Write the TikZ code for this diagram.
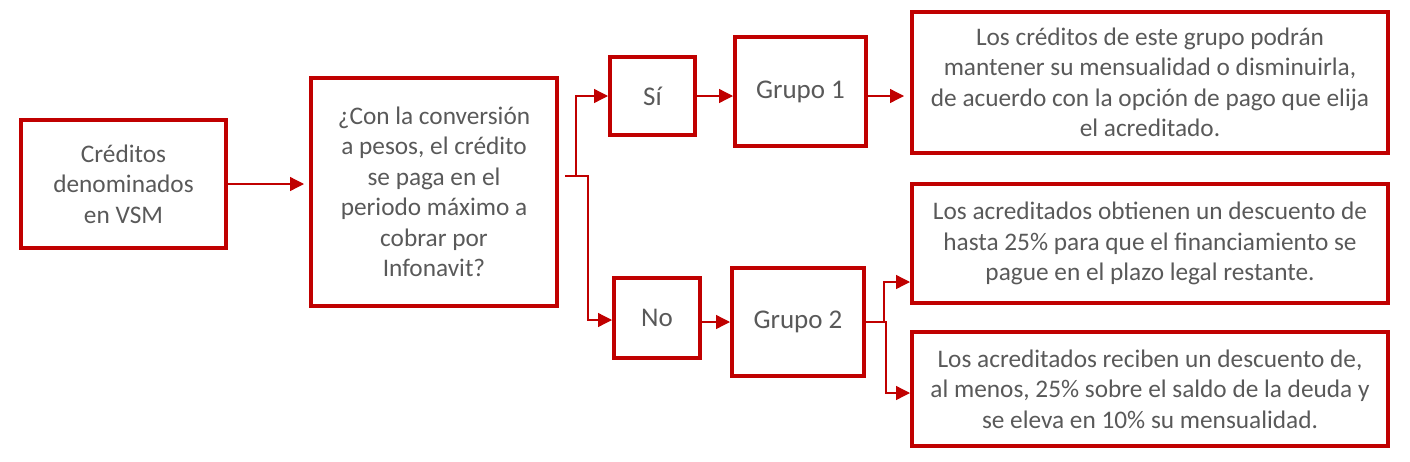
\documentclass[tikz,border=0pt]{standalone}
\usepackage{fontspec}
\setmainfont{Carlito}
\usetikzlibrary{arrows.meta,calc}
\definecolor{boxred}{HTML}{C00000}
\definecolor{txtgray}{HTML}{595959}
\tikzset{
  box/.style={draw=boxred, line width=4pt, rectangle, inner sep=0pt, align=center,
    text=txtgray, font=\fontsize{25.3}{30.5}\selectfont},
  bigbox/.style={box, font=\fontsize{27}{32}\selectfont},
  conn/.style={draw=boxred, line width=1.3pt, -{Triangle[length=14pt,width=14pt]}},
}
\begin{document}
\begin{tikzpicture}[x=1pt,y=-1pt]
\useasboundingbox (0,0) rectangle (1410,461);
\node[box, minimum width=205pt, minimum height=128pt] (A) at (123.5,184) {Créditos\\denominados\\en VSM};
\node[box, minimum width=246pt, minimum height=228pt] (B) at (434,192) {¿Con la conversión\\a pesos, el crédito\\se paga en el\\periodo máximo a\\cobrar por\\Infonavit?};
\node[bigbox, minimum width=85pt, minimum height=78pt] (Si) at (652.5,96) {Sí};
\node[bigbox, minimum width=86pt, minimum height=80pt] (No) at (657,318) {No};
\node[bigbox, minimum width=131pt, minimum height=109pt] (G1) at (800.5,91.5) {Grupo 1};
\node[bigbox, minimum width=132pt, minimum height=108pt] (G2) at (798,322) {Grupo 2};
\node[box, minimum width=476pt, minimum height=141pt] (R1) at (1150,82.5) {Los créditos de este grupo podrán\\mantener su mensualidad o disminuirla,\\de acuerdo con la opción de pago que elija\\el acreditado.};
\node[box, minimum width=476pt, minimum height=119pt] (R2) at (1150,243.5) {Los acreditados obtienen un descuento de\\hasta 25\% para que el financiamiento se\\pague en el plazo legal restante.};
\node[box, minimum width=476pt, minimum height=114pt] (R3) at (1150,389) {Los acreditados reciben un descuento de,\\al menos, 25\% sobre el saldo de la deuda y\\se eleva en 10\% su mensualidad.};
% connectors
\draw[conn, shorten >=5pt] (A.east) -- (A.east -| B.west);
\coordinate (bs) at (565,176);
\draw[conn] (bs) -- ++(11,0) |- (Si.west);
\draw[conn] (bs) -- ++(23,0) |- ($(No.west)+(0,2)$);
\draw[conn] (Si.east) -- (Si.east -| G1.west);
\draw[conn, shorten >=6pt] (G1.east |- Si.east) -- (R1.west |- Si.east);
\draw[conn] (No.east |- G2.west) -- (G2.west);
\draw[conn] (G2.east) -- ++(18,0) |- (R2.west |- 0,282);
\draw[conn] (G2.east) -- ++(20,0) |- (R3.west |- 0,393);
\end{tikzpicture}
\end{document}
